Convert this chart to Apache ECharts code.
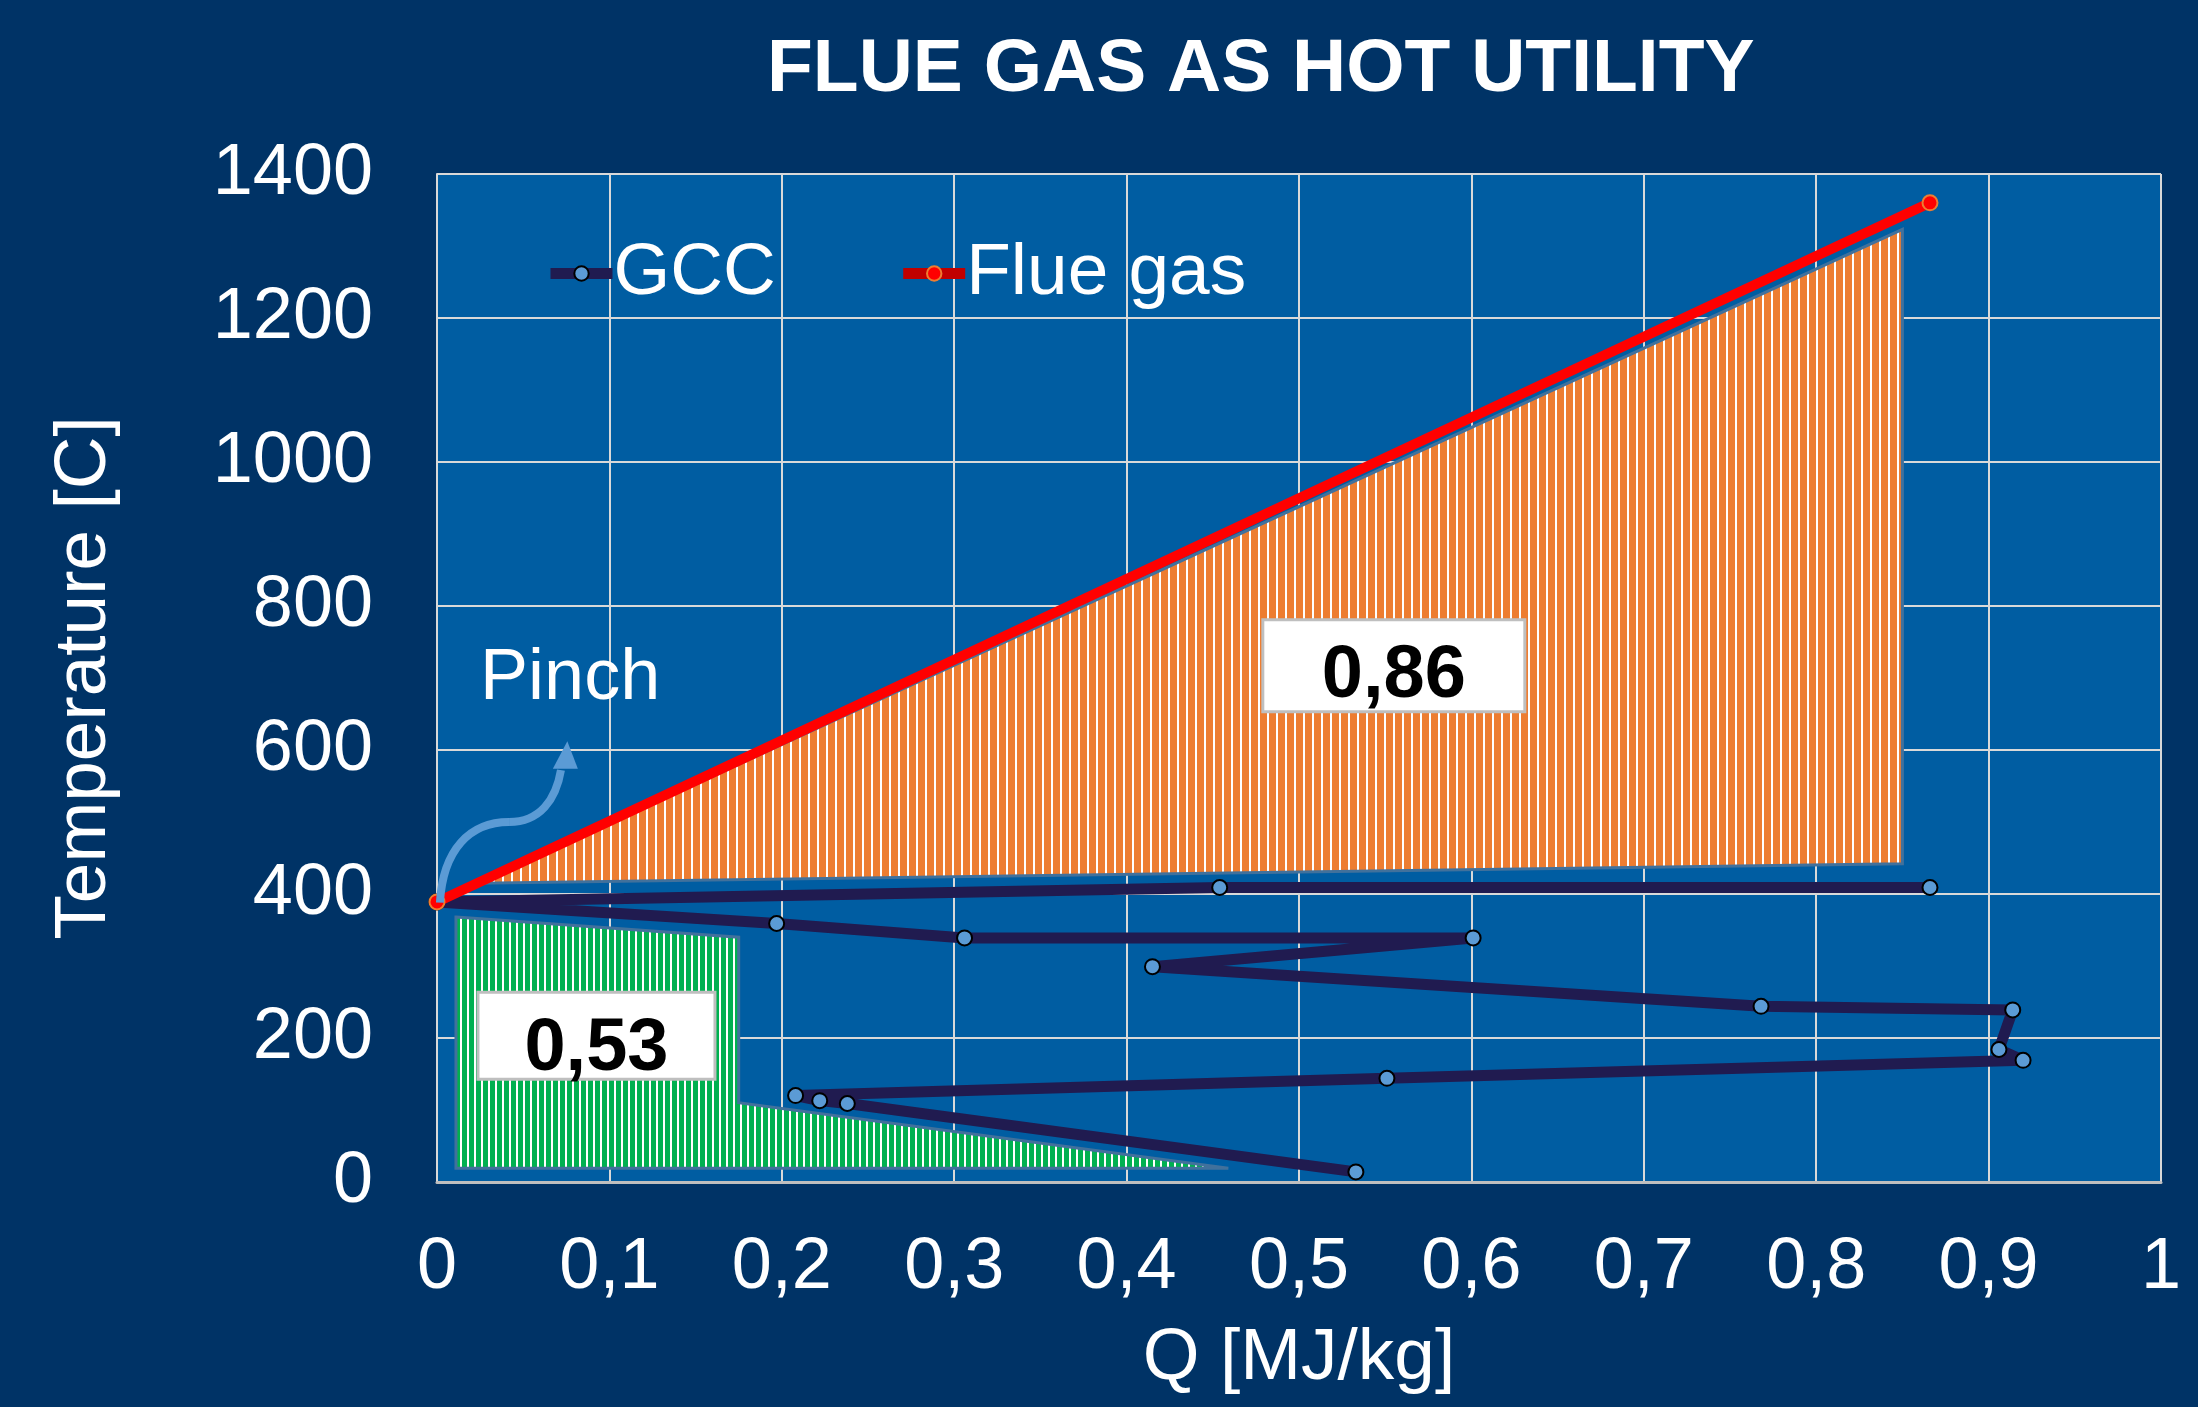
<!DOCTYPE html>
<html>
<head>
<meta charset="utf-8">
<script src="https://cdn.jsdelivr.net/npm/echarts@6/dist/echarts.min.js"></script>
<style>
html,body{margin:0;padding:0;background:#003366;}
#chart{width:2198px;height:1407px;}
</style>
</head>
<body>
<div id="chart"></div>
<script>
// ---- data ----
const gccQ = [0.866, 0.454, 0.000, 0.197, 0.306, 0.601, 0.415, 0.768, 0.914, 0.906, 0.920, 0.551, 0.208, 0.222, 0.238, 0.533];
const gccT = [409, 409, 389, 359, 339, 339, 299, 244, 239, 184, 169, 144, 120, 113, 109, 14];
const flueQ = [0.000, 0.866];
const flueT = [389, 1360];
const hotAreaQ = [0.025, 0.850, 0.850];
const hotAreaT = [415, 1323, 442];
const coldAreaQ = [0.011, 0.175, 0.175, 0.459, 0.011];
const coldAreaT = [368, 340, 110, 19, 19];
const xTickLabels = ['0', '0,1', '0,2', '0,3', '0,4', '0,5', '0,6', '0,7', '0,8', '0,9', '1'];
const yTickLabels = ['0', '200', '400', '600', '800', '1000', '1200', '1400'];
const areaLabels = ['0,86', '0,53'];
const seriesNames = ['GCC', 'Flue gas'];
const titleText = 'FLUE GAS AS HOT UTILITY';
const pinchText = 'Pinch';

const FONT = '"Liberation Sans", Arial, sans-serif';

function stripePattern(base, period, stripe) {
  const c = document.createElement('canvas');
  c.width = period; c.height = 8;
  const ctx = c.getContext('2d');
  ctx.fillStyle = base; ctx.fillRect(0, 0, period, 8);
  ctx.fillStyle = '#ffffff'; ctx.fillRect(period - stripe, 0, stripe, 8);
  return { image: c, repeat: 'repeat' };
}
const orangeFill = stripePattern('#ED7D31', 9, 2);
const greenFill = stripePattern('#00B050', 7, 2);

function pairs(qs, ts) { return qs.map((q, i) => [q, ts[i]]); }

function polygonSeries(qs, ts, fill) {
  return {
    type: 'custom', coordinateSystem: 'cartesian2d', silent: true, z: 1,
    data: pairs(qs, ts),
    renderItem: function (params, api) {
      if (params.dataIndex !== 0) return null;
      const pts = qs.map((q, i) => api.coord([q, ts[i]]));
      return { type: 'polygon', shape: { points: pts },
        style: { fill: fill, stroke: '#41719C', lineWidth: 3 } };
    }
  };
}

const chart = echarts.init(document.getElementById('chart'), null, { renderer: 'canvas' });

const option = {
  backgroundColor: '#003366',
  animation: false,
  title: {
    text: titleText, left: 762, top: 28,
    textStyle: { color: '#ffffff', fontSize: 75, fontWeight: 'bold', fontFamily: FONT }
  },
  legend: {
    left: 540, top: 232, itemWidth: 62, itemHeight: 18, itemGap: 122,
    textStyle: { color: '#ffffff', fontSize: 73, fontFamily: FONT, padding: [0, 0, 0, -4] },
    lineStyle: { width: 11 },
    data: [
      { name: seriesNames[0], itemStyle: { color: '#5B9BD5', borderColor: '#000000', borderWidth: 2 }, lineStyle: { color: '#201B50', width: 11 } },
      { name: seriesNames[1], itemStyle: { color: '#FF0000', borderColor: '#ED7D31', borderWidth: 2 }, lineStyle: { color: '#C00000', width: 11 } }
    ]
  },
  grid: {
    left: 437, right: 37, top: 174, bottom: 225,
    show: true, backgroundColor: '#005DA2', borderWidth: 0
  },
  xAxis: {
    type: 'value', min: 0, max: 1, interval: 0.1,
    name: 'Q [MJ/kg]', nameLocation: 'middle', nameGap: 140,
    nameTextStyle: { color: '#ffffff', fontSize: 73, fontFamily: FONT },
    axisLine: { show: true, lineStyle: { color: '#BFBFBF', width: 3 } },
    axisTick: { show: false },
    axisLabel: {
      color: '#ffffff', fontSize: 72, fontFamily: FONT, margin: 50,
      formatter: function (v) { return xTickLabels[Math.round(v * 10)]; }
    },
    splitLine: { show: true, lineStyle: { color: '#D9D9D9', width: 2 } }
  },
  yAxis: {
    type: 'value', min: 0, max: 1400, interval: 200,
    name: 'Temperature [C]', nameLocation: 'middle', nameGap: 316,
    nameTextStyle: { color: '#ffffff', fontSize: 73, fontFamily: FONT },
    axisLine: { show: true, lineStyle: { color: '#D9D9D9', width: 2 } },
    axisTick: { show: false },
    axisLabel: {
      color: '#ffffff', fontSize: 72, fontFamily: FONT, margin: 64,
      formatter: function (v) { return yTickLabels[Math.round(v / 200)]; }
    },
    splitLine: { show: true, lineStyle: { color: '#D9D9D9', width: 2 } }
  },
  series: [
    polygonSeries(hotAreaQ, hotAreaT, orangeFill),
    polygonSeries(coldAreaQ, coldAreaT, greenFill),
    {
      type: 'custom', coordinateSystem: 'cartesian2d', silent: true, z: 2,
      data: [[0.555, 717, 0], [0.0925, 203, 1]],
      renderItem: function (params, api) {
        const p = api.coord([api.value(0), api.value(1)]);
        const w = params.dataIndex === 0 ? 262 : 237;
        const h = params.dataIndex === 0 ? 92 : 87;
        const dy = params.dataIndex === 0 ? 11 : 14;
        return { type: 'group', children: [
          { type: 'rect', shape: { x: p[0] - w / 2, y: p[1] - h / 2, width: w, height: h },
            style: { fill: '#ffffff', stroke: '#BFBFBF', lineWidth: 3 } },
          { type: 'text', x: p[0], y: p[1] + dy,
            style: { text: areaLabels[params.dataIndex], fill: '#000000', fontSize: 74, fontWeight: 'bold',
              fontFamily: FONT, align: 'center', verticalAlign: 'middle' } }
        ] };
      }
    },
    {
      name: seriesNames[0], type: 'line', z: 3,
      data: pairs(gccQ, gccT),
      showAllSymbol: true, symbol: 'circle', symbolSize: 15,
      lineStyle: { color: '#201B50', width: 11, join: 'round' },
      itemStyle: { color: '#5B9BD5', borderColor: '#000000', borderWidth: 2 }
    },
    {
      name: seriesNames[1], type: 'line', z: 4,
      data: pairs(flueQ, flueT),
      symbol: 'circle', symbolSize: 15,
      lineStyle: { color: '#FF0000', width: 10 },
      itemStyle: { color: '#FF0000', borderColor: '#ED7D31', borderWidth: 2 }
    },
    {
      // Pinch annotation: text + curved arrow, placed in data coordinates
      type: 'custom', coordinateSystem: 'cartesian2d', silent: true, z: 5,
      data: [[0.0017, 388]],
      renderItem: function (params, api) {
        const c = (q, t) => api.coord([q, t]);
        const p0 = c(0.0017, 388), c1 = c(0.0035, 462), c2 = c(0.0191, 500), p1 = c(0.0418, 500);
        const c3 = c(0.0597, 500), c4 = c(0.0690, 531), p2 = c(0.0719, 572);
        const tip = c(0.0756, 612), bl = c(0.0672, 574), br = c(0.0817, 574);
        const tp = c(0.025, 699);
        return { type: 'group', children: [
          { type: 'bezierCurve', shape: { x1: p0[0], y1: p0[1], cpx1: c1[0], cpy1: c1[1], cpx2: c2[0], cpy2: c2[1], x2: p1[0], y2: p1[1] },
            style: { stroke: '#5B9BD5', lineWidth: 8, fill: null } },
          { type: 'bezierCurve', shape: { x1: p1[0], y1: p1[1], cpx1: c3[0], cpy1: c3[1], cpx2: c4[0], cpy2: c4[1], x2: p2[0], y2: p2[1] },
            style: { stroke: '#5B9BD5', lineWidth: 8, fill: null } },
          { type: 'polygon', shape: { points: [tip, bl, br] }, style: { fill: '#5B9BD5' } },
          { type: 'text', x: tp[0], y: tp[1],
            style: { text: pinchText, fill: '#ffffff', fontSize: 72, fontFamily: FONT, align: 'left', verticalAlign: 'middle' } }
        ] };
      }
    }
  ]
};
chart.setOption(option);
</script>
</body>
</html>
